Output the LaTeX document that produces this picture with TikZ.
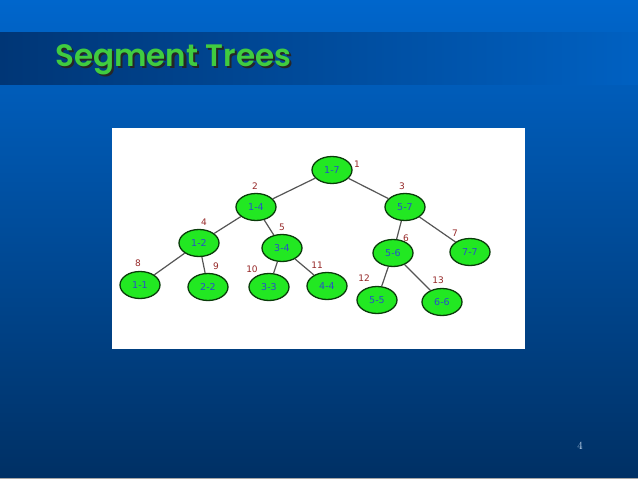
\documentclass[tikz,border=0pt]{standalone}
\usepackage{fontspec}
\setsansfont{DejaVu Sans}
\newfontfamily\titlefont{Poppins SemiBold}
\definecolor{bgtop}{RGB}{0, 102, 204}
\definecolor{bgbot}{RGB}{0, 48, 100}
\definecolor{bandleft}{RGB}{0, 54, 118}
\definecolor{titlegreen}{RGB}{64, 204, 64}
\definecolor{nodegreen}{RGB}{34, 232, 34}
\definecolor{nodeline}{RGB}{10, 60, 10}
\definecolor{nodetext}{RGB}{40, 80, 200}
\definecolor{idxred}{RGB}{150, 40, 40}
\definecolor{linkgrey}{RGB}{85, 85, 85}
\usetikzlibrary{shapes.geometric, positioning}

\begin{document}
\begin{tikzpicture}[
  x=1pt, y=-1pt,
  seg/.style={ellipse, draw=nodeline, line width=1.3pt, fill=nodegreen, minimum width=40pt, minimum height=27pt, inner sep=0pt, font=\sffamily\fontsize{9.5}{11}\selectfont, text=nodetext},
  idx/.style={font=\sffamily\fontsize{9}{11}\selectfont, text=idxred, inner sep=0pt},
  link/.style={draw=linkgrey, line width=1.2pt},
]
  % slide background
  \useasboundingbox (0,0) rectangle (638,479);
  \fill[top color=bgtop, bottom color=bgbot] (0,0) rectangle (638,479);
  \fill[left color=bandleft, right color=bgtop!90!bgbot] (0,32) rectangle (638,84);
  \fill[gray!70] (0,478) rectangle (638,479);
  \node[anchor=base west, inner sep=0pt, text=titlegreen, font=\titlefont\fontsize{31}{36}\selectfont] (title) at (55,66)
    {\rlap{\hspace{2.2pt}\raisebox{-2.2pt}{\color{black!85}Segment Trees}}Segment Trees};
  \node[text=bgtop!20, font=\fontsize{11}{12}\selectfont] (page) at (580,446) {4};
  \fill[white] (111.5,128) rectangle (524.5,349);

  % tree nodes
  \node[seg] (n17) at (332,170) {1-7};
  \node[seg] (n14) at (256,207) {1-4};
  \node[seg] (n57) at (405,207) {5-7};
  \node[seg] (n12) at (199,243) {1-2};
  \node[seg] (n34) at (282,248) {3-4};
  \node[seg] (n56) at (393,253) {5-6};
  \node[seg] (n77) at (470,252) {7-7};
  \node[seg] (n11) at (140,285) {1-1};
  \node[seg] (n22) at (208,287) {2-2};
  \node[seg] (n33) at (269,287) {3-3};
  \node[seg] (n44) at (327,286) {4-4};
  \node[seg] (n55) at (377,300) {5-5};
  \node[seg] (n66) at (442,302) {6-6};

  % edges
  \draw[link] (n17) -- (n14);
  \draw[link] (n17) -- (n57);
  \draw[link] (n14) -- (n12);
  \draw[link] (n14) -- (n34);
  \draw[link] (n57) -- (n56);
  \draw[link] (n57) -- (n77);
  \draw[link] (n12) -- (n11);
  \draw[link] (n12) -- (n22);
  \draw[link] (n34) -- (n33);
  \draw[link] (n34) -- (n44);
  \draw[link] (n56) -- (n55);
  \draw[link] (n56) -- (n66);

  % index labels
  \node[idx] (i1) at (357,164) {1};
  \node[idx] (i2) at (255,186) {2};
  \node[idx] (i3) at (402,186) {3};
  \node[idx] (i4) at (204,222) {4};
  \node[idx] (i5) at (282,227) {5};
  \node[idx] (i6) at (406,238) {6};
  \node[idx] (i7) at (455,233) {7};
  \node[idx] (i8) at (138,263) {8};
  \node[idx] (i9) at (216,266) {9};
  \node[idx] (i10) at (252,269) {10};
  \node[idx] (i11) at (317,265) {11};
  \node[idx] (i12) at (364,278) {12};
  \node[idx] (i13) at (438,280) {13};
\end{tikzpicture}
\end{document}
